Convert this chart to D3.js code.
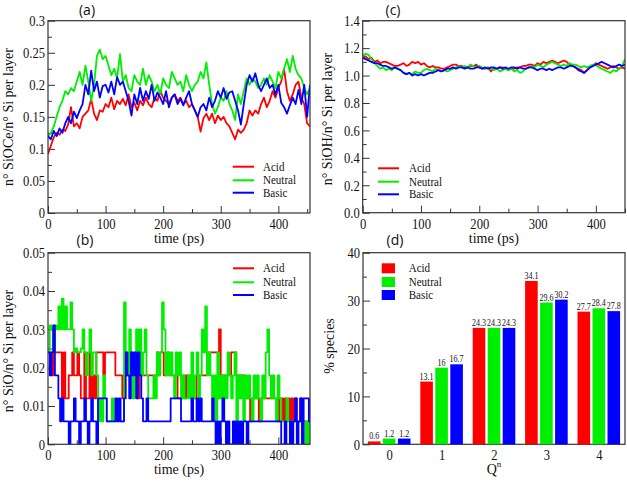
<!DOCTYPE html>
<html><head><meta charset="utf-8">
<script src="https://cdn.jsdelivr.net/npm/d3@7"></script>
<style>body{margin:0;background:#fff}</style>
</head><body>
<svg id="chart" width="627" height="481"></svg>
<script>
// ---------------- DATA ----------------
const seriesNames = ["Acid", "Neutral", "Basic"];
const seriesColors = ["#ff0000", "#00ee00", "#0000ff"];

// panel (a): n° SiOCe / n° Si per layer, every 5 ps from 0 to 455
const acidA = [
 0.092,0.105,0.118,0.125,0.122,0.130,0.128,0.138,0.165,0.135,
 0.140,0.132,0.150,0.155,0.160,0.178,0.155,0.145,0.160,0.158,
 0.170,0.165,0.180,0.162,0.175,0.170,0.178,0.168,0.185,0.165,
 0.172,0.160,0.175,0.168,0.180,0.170,0.165,0.180,0.175,0.190,
 0.180,0.175,0.170,0.180,0.185,0.175,0.180,0.170,0.175,0.165,
 0.170,0.160,0.150,0.127,0.148,0.155,0.145,0.155,0.140,0.152,
 0.145,0.150,0.140,0.135,0.125,0.115,0.130,0.125,0.130,0.140,
 0.160,0.152,0.160,0.155,0.170,0.180,0.165,0.175,0.190,0.180,
 0.195,0.205,0.225,0.190,0.175,0.185,0.200,0.205,0.180,0.170,
 0.140,0.135];
const neutralA = [
 0.120,0.125,0.135,0.150,0.165,0.175,0.190,0.185,0.195,0.190,
 0.205,0.220,0.200,0.230,0.205,0.175,0.200,0.245,0.255,0.240,
 0.245,0.230,0.215,0.225,0.210,0.248,0.205,0.215,0.195,0.190,
 0.215,0.205,0.200,0.225,0.200,0.215,0.205,0.190,0.200,0.185,
 0.210,0.200,0.195,0.220,0.210,0.200,0.205,0.190,0.215,0.200,
 0.190,0.200,0.205,0.220,0.210,0.235,0.200,0.170,0.155,0.165,
 0.180,0.175,0.190,0.170,0.160,0.145,0.185,0.170,0.190,0.210,
 0.200,0.210,0.205,0.195,0.200,0.210,0.200,0.215,0.205,0.195,
 0.220,0.210,0.225,0.240,0.220,0.245,0.225,0.215,0.210,0.195,
 0.185,0.195];
const basicA = [
 0.120,0.115,0.128,0.120,0.132,0.125,0.140,0.150,0.140,0.158,
 0.148,0.160,0.170,0.200,0.185,0.222,0.190,0.205,0.180,0.198,
 0.200,0.188,0.205,0.185,0.212,0.200,0.205,0.190,0.175,0.152,
 0.185,0.170,0.195,0.175,0.190,0.178,0.200,0.175,0.188,0.180,
 0.170,0.190,0.165,0.180,0.185,0.170,0.178,0.168,0.180,0.190,
 0.170,0.160,0.150,0.165,0.170,0.160,0.180,0.165,0.175,0.190,
 0.180,0.195,0.178,0.188,0.190,0.175,0.160,0.138,0.170,0.200,
 0.215,0.205,0.218,0.200,0.190,0.200,0.210,0.195,0.200,0.185,
 0.200,0.172,0.165,0.155,0.168,0.180,0.170,0.192,0.170,0.200,
 0.150,0.200];

// panel (b): n° SiO / n° Si per layer, every 3 ps from 0 to 456
const acidB = [
 .024,.024,.018,.024,.024,.024,.024,.024,.012,.024,
 .012,.012,.018,.018,.024,.018,.018,.024,.018,.012,
 .012,.024,.012,.012,.024,.012,.018,.012,.024,.024,
 .024,.024,.018,.024,.024,.024,.024,.024,.024,.018,
 .018,.018,.018,.012,.018,.018,.018,.018,.024,.018,
 .018,.018,.012,.018,.018,.018,.018,.018,.018,.018,
 .018,.018,.018,.024,.018,.024,.024,.018,.018,.024,
 .018,.018,.018,.018,.018,.012,.012,.012,.018,.012,
 .018,.018,.018,.018,.012,.012,.018,.018,.018,.018,
 .018,.018,.024,.024,.024,.024,.024,.024,.024,.030,
 .018,.018,.018,.018,.018,.018,.024,.024,.024,.018,
 .018,.018,.018,.018,.012,.012,.012,.006,.012,.012,
 .012,.012,.006,.012,.012,.012,.012,.012,.012,.012,
 .012,.012,.012,.006,.012,.012,.006,.012,.006,.012,
 .006,.012,.006,.012,.006,.006,.012,.006,.006,.006,
 .006,.006,.006];
const neutralB = [
 .024,.031,.030,.024,.031,.030,.036,.030,.038,.030,
 .036,.030,.030,.037,.030,.024,.025,.024,.024,.025,
 .030,.024,.018,.024,.030,.018,.024,.024,.018,.006,
 .012,.006,.018,.012,.006,.006,.006,.012,.006,.006,
 .006,.006,.006,.006,.037,.024,.018,.030,.018,.012,
 .024,.030,.018,.030,.018,.024,.030,.018,.012,.012,
 .012,.018,.012,.024,.018,.024,.037,.030,.018,.024,
 .018,.024,.018,.012,.024,.018,.024,.012,.018,.012,
 .012,.018,.012,.024,.012,.018,.024,.012,.018,.030,
 .024,.036,.018,.024,.018,.012,.018,.006,.024,.012,
 .018,.006,.018,.012,.024,.018,.012,.018,.024,.000,
 .018,.012,.018,.006,.018,.012,.018,.012,.006,.018,
 .012,.018,.012,.006,.018,.012,.024,.030,.018,.012,
 .018,.012,.006,.018,.012,.006,.006,.006,.012,.006,
 .006,.006,.006,.006,.006,.006,.006,.006,.006,.000,
 .006,.000,.000];
const basicB = [
 .024,.018,.024,.031,.018,.018,.012,.006,.012,.006,
 .006,.006,.000,.006,.006,.012,.006,.006,.000,.006,
 .006,.012,.006,.000,.006,.012,.006,.006,.000,.012,
 .012,.012,.012,.012,.006,.006,.006,.006,.006,.012,
 .006,.012,.006,.006,.012,.024,.018,.012,.024,.018,
 .024,.012,.024,.018,.012,.006,.006,.012,.006,.006,
 .006,.006,.006,.006,.006,.006,.006,.006,.006,.006,
 .006,.012,.012,.012,.012,.012,.012,.006,.006,.006,
 .006,.006,.006,.012,.006,.006,.012,.006,.012,.006,
 .006,.006,.006,.006,.006,.012,.006,.000,.006,.000,
 .006,.012,.006,.000,.006,.000,.000,.006,.000,.006,
 .000,.006,.000,.006,.006,.000,.006,.006,.006,.006,
 .006,.006,.006,.006,.006,.006,.006,.006,.006,.006,
 .006,.006,.006,.006,.006,.000,.000,.006,.000,.000,
 .006,.000,.006,.012,.000,.006,.012,.000,.012,.012,
 .012,.006,.012];

// panel (c): n° SiOH / n° Si per layer, every 5 ps from 0 to 450
const acidC = [
 1.13,1.14,1.12,1.13,1.10,1.11,1.09,1.10,1.10,1.09,
 1.08,1.07,1.07,1.08,1.09,1.07,1.08,1.10,1.09,1.10,
 1.08,1.09,1.07,1.06,1.07,1.06,1.06,1.05,1.05,1.06,
 1.07,1.08,1.08,1.07,1.07,1.06,1.06,1.07,1.07,1.08,
 1.06,1.05,1.05,1.06,1.03,1.05,1.05,1.06,1.06,1.05,
 1.04,1.05,1.05,1.06,1.06,1.07,1.07,1.08,1.08,1.07,
 1.09,1.08,1.10,1.09,1.10,1.11,1.10,1.09,1.10,1.11,
 1.10,1.08,1.07,1.06,1.05,1.04,1.02,1.04,1.06,1.07,
 1.09,1.08,1.07,1.06,1.05,1.06,1.07,1.06,1.05,1.06,
 1.05];
const neutralC = [
 1.14,1.16,1.15,1.12,1.09,1.07,1.05,1.06,1.04,1.05,
 1.04,1.06,1.05,1.04,1.02,1.01,1.02,1.01,1.03,1.02,
 1.02,1.04,1.05,1.04,1.03,1.05,1.04,1.03,1.04,1.03,
 1.04,1.05,1.06,1.07,1.06,1.07,1.06,1.08,1.07,1.06,
 1.07,1.06,1.05,1.06,1.05,1.04,1.05,1.03,1.04,1.05,
 1.04,1.05,1.03,1.04,1.02,1.03,1.05,1.06,1.07,1.06,
 1.08,1.07,1.06,1.08,1.09,1.10,1.09,1.08,1.07,1.08,
 1.07,1.09,1.08,1.08,1.07,1.06,1.07,1.06,1.07,1.08,
 1.08,1.06,1.05,1.04,1.03,1.02,1.04,1.03,1.05,1.07,
 1.12];
const basicC = [
 1.13,1.12,1.11,1.10,1.09,1.09,1.08,1.07,1.07,1.06,
 1.05,1.06,1.05,1.04,1.02,1.01,1.02,1.00,1.01,1.00,
 1.01,1.00,1.01,1.02,1.02,1.03,1.04,1.03,1.04,1.05,
 1.05,1.06,1.05,1.06,1.06,1.05,1.06,1.05,1.05,1.06,
 1.06,1.05,1.06,1.05,1.06,1.06,1.05,1.06,1.05,1.06,
 1.05,1.06,1.06,1.05,1.06,1.05,1.05,1.06,1.06,1.05,
 1.04,1.05,1.05,1.04,1.05,1.04,1.05,1.06,1.06,1.05,
 1.06,1.07,1.07,1.06,1.04,1.03,1.02,1.04,1.06,1.07,
 1.08,1.09,1.10,1.09,1.08,1.07,1.06,1.07,1.08,1.07,
 1.08];

// panel (d): % species per Q^n
const qCategories = [0, 1, 2, 3, 4];
const acidQ    = [0.6, 13.1, 24.3, 34.1, 27.7];
const neutralQ = [1.2, 16.0, 24.3, 29.6, 28.4];
const basicQ   = [1.2, 16.7, 24.3, 30.2, 27.8];
const qLabels  = [["0.6","1.2","1.2"],["13.1","16","16.7"],["24.3","24.3","24.3"],["34.1","29.6","30.2"],["27.7","28.4","27.8"]];

// sampling grids
const timeA = d3.range(0, 456, 5);
const timeB = d3.range(0, 457, 3);
const timeC = d3.range(0, 451, 5);

// ---------------- DRAWING ----------------
const svg = d3.select("#chart");
const SERIF = "Liberation Serif, Tinos, Times New Roman, Times, DejaVu Serif, Noto Serif, serif";
const SANS = "Open Sans, Noto Sans, DejaVu Sans, sans-serif";
const FRAME = "#333";
const TSX = 0.84;

function serif(sel) { return sel.style("font-family", SERIF).attr("font-family", null); }

function ctext(g, x, y, str, size, sx, anchor) {
  return serif(g.append("text"))
    .attr("transform", `translate(${x},${y}) scale(${sx},1)`)
    .attr("text-anchor", anchor || "start")
    .style("font-size", size + "px")
    .attr("fill", "#111")
    .text(str);
}

let clipId = 0;
function panel(cfg) {
  const g = svg.append("g");
  const xs = d3.scaleLinear().domain(cfg.xDomain).range(cfg.xRange);
  const ys = d3.scaleLinear().domain(cfg.yDomain).range(cfg.yRange);
  const [x0, x1] = cfg.xRange, [yB, yT] = cfg.yRange;

  if (cfg.xMinor) {
    g.append("g").attr("transform", `translate(0,${yB})`)
      .call(d3.axisBottom(xs).tickValues(cfg.xMinor).tickSize(-4).tickFormat(""));
  }
  if (cfg.yMinor) {
    g.append("g").attr("transform", `translate(${x0},0)`)
      .call(d3.axisLeft(ys).tickValues(cfg.yMinor).tickSize(-4).tickFormat(""));
  }
  const xa = g.append("g").attr("transform", `translate(0,${yB})`)
    .call(d3.axisBottom(xs).tickValues(cfg.xMajor).tickSize(cfg.xTickLen === undefined ? -7 : cfg.xTickLen).tickPadding(5.5).tickFormat(cfg.xFmt));
  const ya = g.append("g").attr("transform", `translate(${x0},0)`)
    .call(d3.axisLeft(ys).tickValues(cfg.yMajor).tickSize(-7).tickPadding(3).tickFormat(cfg.yFmt));
  g.selectAll(".domain").remove();
  g.selectAll(".tick line").attr("stroke", FRAME).attr("stroke-width", 1);
  serif(g.selectAll(".tick text")).style("font-size", "15px").attr("fill", "#111");
  xa.selectAll(".tick text").attr("transform", `scale(${TSX},1)`);
  ya.selectAll(".tick text").attr("x", -3 / TSX).attr("transform", `scale(${TSX},1)`);

  const clip = "clip" + (clipId++);
  g.append("clipPath").attr("id", clip).append("rect")
    .attr("x", x0).attr("y", yT).attr("width", x1 - x0).attr("height", yB - yT);
  const plot = g.append("g").attr("clip-path", `url(#${clip})`);

  g.append("rect").attr("x", x0).attr("y", yT).attr("width", x1 - x0).attr("height", yB - yT)
    .attr("fill", "none").attr("stroke", FRAME).attr("stroke-width", 1.2);

  serif(g.append("text"))
    .attr("transform", `translate(${cfg.yTitlePos[0]},${cfg.yTitlePos[1]}) rotate(-90)`)
    .attr("text-anchor", "middle").style("font-size", "14px").attr("fill", "#111")
    .text(cfg.yTitle);
  const xt = serif(g.append("text"))
    .attr("x", (x0 + x1) / 2 + (cfg.xTitleDx || 0)).attr("y", yB + 30)
    .attr("text-anchor", "middle").style("font-size", "14px").attr("fill", "#111");
  if (cfg.xTitleSup) {
    xt.append("tspan").text(cfg.xTitle);
    xt.append("tspan").style("font-size", "9px").attr("dy", -7).text(cfg.xTitleSup);
  } else xt.text(cfg.xTitle);

  g.append("text").style("font-family", SANS).attr("x", cfg.letterPos[0]).attr("y", cfg.letterPos[1])
    .attr("text-anchor", "middle").style("font-size", "14px").attr("fill", "#111")
    .text(cfg.letter);

  return { g, xs, ys, plot };
}

function lines(p, times, series, curve) {
  const line = d3.line().x((d, i) => p.xs(times[i])).y(d => p.ys(d)).curve(curve || d3.curveLinear);
  series.forEach((s, k) => {
    p.plot.append("path").datum(s.slice(0, times.length)).attr("d", line)
      .attr("fill", "none").attr("stroke", seriesColors[k]).attr("stroke-width", 1.8)
      .attr("stroke-linejoin", "round");
  });
}

function lineLegend(g, x0, x1, tx, ys) {
  seriesNames.forEach((n, k) => {
    g.append("line").attr("x1", x0).attr("x2", x1).attr("y1", ys[k]).attr("y2", ys[k])
      .attr("stroke", seriesColors[k]).attr("stroke-width", 2);
    ctext(g, tx, ys[k] + 4, n, 12, 0.92);
  });
}

const fmtTrim = d => String(+(+d).toFixed(3));

// (a)
const pa = panel({
  xDomain: [0, 455], xRange: [48, 310], yDomain: [0, 0.3], yRange: [213, 20.7],
  xMajor: [0, 100, 200, 300, 400], xMinor: [50, 150, 250, 350, 450],
  yMajor: [0, 0.05, 0.1, 0.15, 0.2, 0.25, 0.3], yMinor: [0.025, 0.075, 0.125, 0.175, 0.225, 0.275],
  xFmt: d => d, yFmt: fmtTrim,
  yTitle: "n° SiOCe/n° Si per layer", yTitlePos: [13, 117],
  xTitle: "time (ps)", letter: "(a)", letterPos: [87, 15]
});
lines(pa, timeA, [acidA, neutralA, basicA]);
lineLegend(pa.g, 232.7, 254, 263, [166.7, 180.3, 192.7]);

// (b)
const pb = panel({
  xDomain: [0, 455], xRange: [48, 310], yDomain: [0, 0.05], yRange: [444.3, 252.7],
  xMajor: [0, 100, 200, 300, 400], xMinor: [50, 150, 250, 350, 450],
  yMajor: [0, 0.01, 0.02, 0.03, 0.04, 0.05], yMinor: [0.005, 0.015, 0.025, 0.035, 0.045],
  xFmt: d => d, yFmt: fmtTrim,
  yTitle: "n° SiO/n° Si per layer", yTitlePos: [13, 351],
  xTitle: "time (ps)", letter: "(b)", letterPos: [85, 245]
});
lines(pb, timeB, [acidB, neutralB, basicB], d3.curveStepAfter);
lineLegend(pb.g, 233, 254, 263, [268.3, 282.3, 295]);

// (c)
const pc = panel({
  xDomain: [0, 450], xRange: [362.7, 625], yDomain: [0, 1.4], yRange: [212.7, 20.7],
  xMajor: [0, 100, 200, 300, 400], xMinor: [50, 150, 250, 350, 450],
  yMajor: [0, 0.2, 0.4, 0.6, 0.8, 1.0, 1.2, 1.4], yMinor: [0.1, 0.3, 0.5, 0.7, 0.9, 1.1, 1.3],
  xFmt: d => d, yFmt: d3.format(".1f"),
  yTitle: "n° SiOH/n° Si per layer", yTitlePos: [332, 119],
  xTitle: "time (ps)", letter: "(c)", letterPos: [393, 15]
});
lines(pc, timeC, [acidC, neutralC, basicC]);
lineLegend(pc.g, 378, 399, 409, [168.3, 181.7, 194.3]);

// (d)
const pd = panel({
  xDomain: [-0.5, 4.5], xRange: [363, 625], yDomain: [0, 40], yRange: [444.3, 252.7],
  xMajor: qCategories, xMinor: null, xTickLen: 0,
  yMajor: [0, 10, 20, 30, 40], yMinor: [5, 15, 25, 35],
  xFmt: d => d, yFmt: d => d,
  yTitle: "% species", yTitlePos: [334, 346],
  xTitle: "Q", xTitleSup: "n", xTitleDx: 0, letter: "(d)", letterPos: [395, 245]
});
const inner = d3.scaleBand().domain(seriesNames).range([-22.5, 22.5]).paddingInner(0.16).paddingOuter(0.08);
const qSeries = [acidQ, neutralQ, basicQ];
qCategories.forEach((q, i) => {
  seriesNames.forEach((n, k) => {
    const v = qSeries[k][i];
    const bx = pd.xs(q) + inner(n);
    pd.g.append("rect").attr("x", bx).attr("y", pd.ys(v))
      .attr("width", inner.bandwidth()).attr("height", pd.ys(0) - pd.ys(v))
      .attr("fill", seriesColors[k]);
    ctext(pd.g, bx + inner.bandwidth() / 2, pd.ys(v) - 2, qLabels[i][k], 10, 0.8, "middle");
  });
});
seriesNames.forEach((n, k) => {
  const cy = [268.3, 282, 295][k];
  pd.g.append("rect").attr("x", 381.7).attr("y", cy - 5).attr("width", 13.3).attr("height", 10)
    .attr("fill", seriesColors[k]);
  ctext(pd.g, 408.7, cy + 4, n, 12, 0.92);
});
</script>
</body></html>
